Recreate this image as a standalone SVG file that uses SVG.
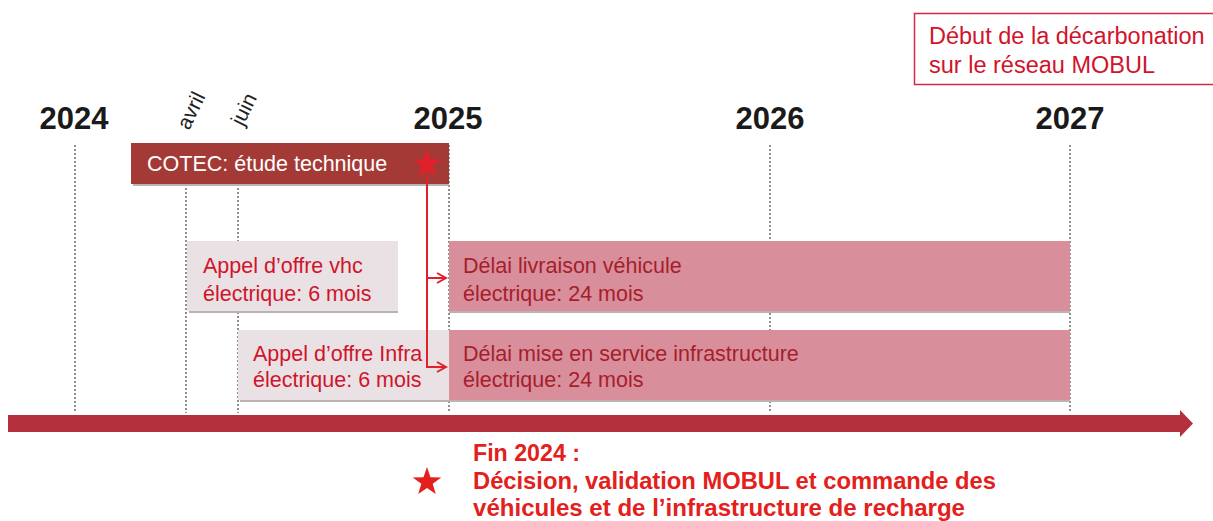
<svg xmlns="http://www.w3.org/2000/svg" width="1213" height="521" viewBox="0 0 1213 521">
<style>
.yr{font-family:"Liberation Sans",Arial,sans-serif;font-weight:bold;font-size:31px;fill:#1a1a1a;text-anchor:middle}
.mo{font-family:"Liberation Sans",Arial,sans-serif;font-size:21px;fill:#222}
.grid{stroke:#555;stroke-width:1.3;stroke-dasharray:2 2;fill:none}
.t{font-family:"Liberation Sans",Arial,sans-serif;font-size:21.5px}
.tb{font-family:"Liberation Sans",Arial,sans-serif;font-size:23.5px}
.red{fill:#d0142c}
.dred{fill:#a51e2c}
.bt{font-family:"Liberation Sans",Arial,sans-serif;font-weight:bold;font-size:23px;fill:#e3201b}
.lite{fill:#e9e1e3}
.pink{fill:#d98e9b}
.sh{fill:#b9b3b5}
</style>
<defs>
<marker id="ah" markerWidth="12" markerHeight="12" refX="10" refY="6" orient="auto" markerUnits="userSpaceOnUse">
<path d="M1,1 L10,6 L1,11" fill="none" stroke="#e0202a" stroke-width="2"/>
</marker>
<polygon id="star" points="0,-15 3.5,-4.8 14.3,-4.6 5.7,1.8 8.8,12.1 0,6 -8.8,12.1 -5.7,1.8 -14.3,-4.6 -3.5,-4.8"/>
</defs>
<rect width="1213" height="521" fill="#fff"/>

<g id="grid">
<line class="grid" x1="75" y1="145" x2="75" y2="413"/>
<line class="grid" x1="186" y1="184" x2="186" y2="413"/>
<line class="grid" x1="238" y1="184" x2="238" y2="413"/>
<line class="grid" x1="449" y1="145" x2="449" y2="413"/>
<line class="grid" x1="770" y1="145" x2="770" y2="413"/>
<line class="grid" x1="1070" y1="145" x2="1070" y2="413"/>
</g>

<g id="years">
<text class="yr" x="74" y="129">2024</text>
<text class="yr" x="448" y="129">2025</text>
<text class="yr" x="770" y="129">2026</text>
<text class="yr" x="1070" y="129">2027</text>
<text class="mo" transform="translate(189,131) rotate(-64)">avril</text>
<text class="mo" transform="translate(243,127) rotate(-64)">juin</text>
</g>

<g id="debut">
<rect x="914.5" y="13.5" width="310" height="71" fill="#fff" stroke="#d6284a" stroke-width="1.5"/>
<text class="tb red" x="929" y="44">Début de la décarbonation</text>
<text class="tb red" x="929" y="73">sur le réseau MOBUL</text>
</g>

<g id="cotec">
<rect class="sh" x="133" y="184" width="316" height="2"/>
<rect x="131" y="143" width="318" height="41" fill="#a43a36"/>
<text class="t" x="147" y="171" fill="#fff">COTEC: étude technique</text>
</g>

<g id="appel-vhc">
<rect class="sh" x="189" y="311" width="209" height="2"/>
<rect class="lite" x="187" y="241" width="211" height="70"/>
<text class="t red" x="203" y="273">Appel d’offre vhc</text>
<text class="t red" x="203" y="301">électrique: 6 mois</text>
</g>

<g id="livraison">
<rect class="sh" x="449" y="311" width="621" height="2"/>
<rect class="pink" x="449" y="241" width="621" height="70"/>
<text class="t dred" x="463" y="273">Délai livraison véhicule</text>
<text class="t dred" x="463" y="301">électrique: 24 mois</text>
</g>

<g id="appel-infra">
<rect class="sh" x="240" y="400" width="209" height="2"/>
<rect class="lite" x="238" y="330" width="211" height="70"/>
<text class="t red" x="253" y="361">Appel d’offre Infra</text>
<text class="t red" x="253" y="387">électrique: 6 mois</text>
</g>

<g id="mise-service">
<rect class="sh" x="449" y="400" width="621" height="2"/>
<rect class="pink" x="449" y="330" width="621" height="70"/>
<text class="t dred" x="463" y="361">Délai mise en service infrastructure</text>
<text class="t dred" x="463" y="387">électrique: 24 mois</text>
</g>

<g id="connectors">
<line x1="427" y1="166" x2="427" y2="368" stroke="#e0202a" stroke-width="2"/>
<line x1="427" y1="278" x2="446" y2="278" stroke="#e0202a" stroke-width="2" marker-end="url(#ah)"/>
<line x1="427" y1="367" x2="446" y2="367" stroke="#e0202a" stroke-width="2" marker-end="url(#ah)"/>
</g>

<g id="star-cotec">
<use href="#star" x="427" y="164" fill="#e0202a"/>
</g>

<g id="timeline">
<polygon points="8,415 1180,415 1180,410 1193,423.5 1180,437 1180,432 8,432" fill="#b5303d"/>
</g>

<g id="legend">
<use href="#star" x="427" y="482" fill="#e3201b"/>
<text class="bt" x="473" y="461" textLength="107" lengthAdjust="spacingAndGlyphs">Fin 2024 :</text>
<text class="bt" x="473" y="489" textLength="523" lengthAdjust="spacingAndGlyphs">Décision, validation MOBUL et commande des</text>
<text class="bt" x="473" y="516" textLength="492" lengthAdjust="spacingAndGlyphs">véhicules et de l’infrastructure de recharge</text>
</g>
</svg>
